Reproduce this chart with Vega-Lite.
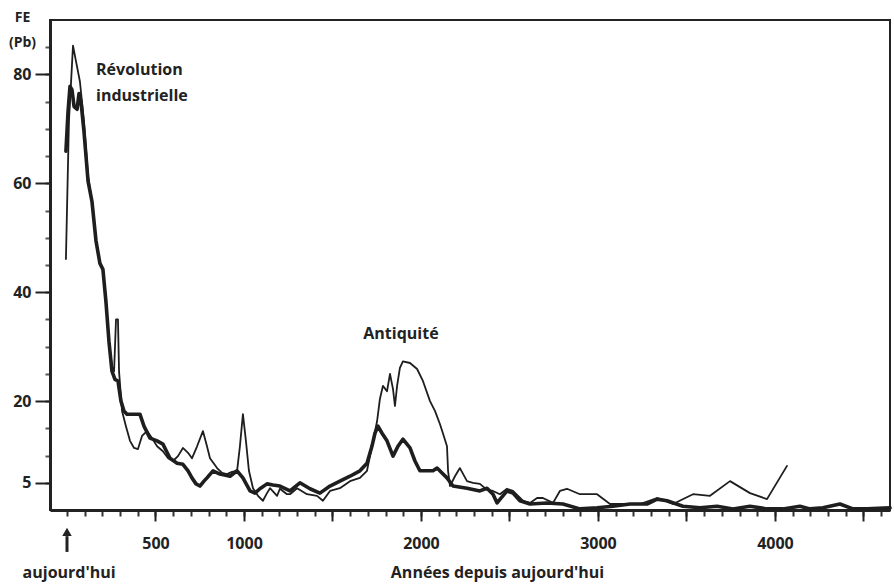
{
  "$schema": "https://vega.github.io/schema/vega-lite/v6.json",
  "width": 840,
  "height": 490,
  "autosize": "none",
  "padding": {"left": 50, "top": 20, "right": 4, "bottom": 74},
  "background": "white",
  "config": {
    "view": {"stroke": "#222222", "strokeWidth": 2},
    "font": "Open Sans"
  },
  "resolve": {"axis": {"x": "independent", "y": "independent"}},
  "datasets": {
    "series": [
      {"serie":"fine","year":-6,"fe":46.1},{"serie":"fine","year":11,"fe":71.4},{"serie":"fine","year":34,"fe":85.3},{"serie":"fine","year":51,"fe":82.4},{"serie":"fine","year":73,"fe":78.7},{"serie":"fine","year":96,"fe":71.4},{"serie":"fine","year":119,"fe":61.3},{"serie":"fine","year":141,"fe":56.7},{"serie":"fine","year":164,"fe":49.4},{"serie":"fine","year":186,"fe":45.3},{"serie":"fine","year":203,"fe":44.2},{"serie":"fine","year":220,"fe":38.3},{"serie":"fine","year":237,"fe":31.0},{"serie":"fine","year":254,"fe":26.4},{"serie":"fine","year":266,"fe":25.5},{"serie":"fine","year":277,"fe":35.0},{"serie":"fine","year":288,"fe":35.0},{"serie":"fine","year":294,"fe":25.5},{"serie":"fine","year":311,"fe":18.2},{"serie":"fine","year":333,"fe":15.4},{"serie":"fine","year":356,"fe":12.7},{"serie":"fine","year":379,"fe":11.4},{"serie":"fine","year":401,"fe":11.2},{"serie":"fine","year":424,"fe":13.6},{"serie":"fine","year":452,"fe":14.5},{"serie":"fine","year":480,"fe":13.2},{"serie":"fine","year":509,"fe":11.7},{"serie":"fine","year":542,"fe":10.8},{"serie":"fine","year":571,"fe":9.5},{"serie":"fine","year":599,"fe":9.0},{"serie":"fine","year":627,"fe":9.9},{"serie":"fine","year":655,"fe":11.4},{"serie":"fine","year":684,"fe":10.5},{"serie":"fine","year":706,"fe":9.5},{"serie":"fine","year":735,"fe":11.7},{"serie":"fine","year":768,"fe":14.5},{"serie":"fine","year":791,"fe":11.7},{"serie":"fine","year":808,"fe":9.5},{"serie":"fine","year":848,"fe":7.7},{"serie":"fine","year":876,"fe":6.8},{"serie":"fine","year":904,"fe":6.6},{"serie":"fine","year":932,"fe":7.0},{"serie":"fine","year":961,"fe":7.2},{"serie":"fine","year":977,"fe":11.7},{"serie":"fine","year":994,"fe":17.6},{"serie":"fine","year":1011,"fe":12.7},{"serie":"fine","year":1028,"fe":7.2},{"serie":"fine","year":1051,"fe":4.0},{"serie":"fine","year":1079,"fe":2.6},{"serie":"fine","year":1107,"fe":1.7},{"serie":"fine","year":1130,"fe":3.1},{"serie":"fine","year":1147,"fe":4.0},{"serie":"fine","year":1187,"fe":2.6},{"serie":"fine","year":1203,"fe":3.9},{"serie":"fine","year":1243,"fe":2.9},{"serie":"fine","year":1260,"fe":2.9},{"serie":"fine","year":1300,"fe":4.0},{"serie":"fine","year":1356,"fe":2.9},{"serie":"fine","year":1413,"fe":2.6},{"serie":"fine","year":1446,"fe":1.7},{"serie":"fine","year":1486,"fe":3.5},{"serie":"fine","year":1542,"fe":4.0},{"serie":"fine","year":1599,"fe":5.3},{"serie":"fine","year":1655,"fe":5.9},{"serie":"fine","year":1695,"fe":7.2},{"serie":"fine","year":1729,"fe":12.7},{"serie":"fine","year":1752,"fe":16.3},{"serie":"fine","year":1768,"fe":20.4},{"serie":"fine","year":1785,"fe":22.8},{"serie":"fine","year":1808,"fe":21.8},{"serie":"fine","year":1825,"fe":25.0},{"serie":"fine","year":1842,"fe":22.2},{"serie":"fine","year":1853,"fe":19.1},{"serie":"fine","year":1865,"fe":22.8},{"serie":"fine","year":1881,"fe":26.1},{"serie":"fine","year":1898,"fe":27.3},{"serie":"fine","year":1938,"fe":27.0},{"serie":"fine","year":1978,"fe":25.9},{"serie":"fine","year":2011,"fe":23.7},{"serie":"fine","year":2051,"fe":20.0},{"serie":"fine","year":2079,"fe":18.2},{"serie":"fine","year":2107,"fe":15.8},{"serie":"fine","year":2124,"fe":14.1},{"serie":"fine","year":2147,"fe":11.7},{"serie":"fine","year":2153,"fe":7.2},{"serie":"fine","year":2164,"fe":4.4},{"serie":"fine","year":2192,"fe":6.2},{"serie":"fine","year":2220,"fe":7.7},{"serie":"fine","year":2260,"fe":5.3},{"serie":"fine","year":2294,"fe":5.0},{"serie":"fine","year":2333,"fe":4.8},{"serie":"fine","year":2373,"fe":3.7},{"serie":"fine","year":2407,"fe":3.5},{"serie":"fine","year":2446,"fe":2.9},{"serie":"fine","year":2486,"fe":3.9},{"serie":"fine","year":2520,"fe":3.5},{"serie":"fine","year":2576,"fe":1.7},{"serie":"fine","year":2616,"fe":1.3},{"serie":"fine","year":2656,"fe":2.2},{"serie":"fine","year":2689,"fe":2.2},{"serie":"fine","year":2746,"fe":1.3},{"serie":"fine","year":2785,"fe":3.5},{"serie":"fine","year":2825,"fe":3.9},{"serie":"fine","year":2898,"fe":2.9},{"serie":"fine","year":2995,"fe":2.9},{"serie":"fine","year":3068,"fe":1.1},{"serie":"fine","year":3153,"fe":1.1},{"serie":"fine","year":3237,"fe":1.1},{"serie":"fine","year":3334,"fe":2.2},{"serie":"fine","year":3424,"fe":1.1},{"serie":"fine","year":3537,"fe":2.9},{"serie":"fine","year":3633,"fe":2.6},{"serie":"fine","year":3746,"fe":5.3},{"serie":"fine","year":3859,"fe":3.1},{"serie":"fine","year":3955,"fe":2.0},{"serie":"fine","year":4068,"fe":8.1},
      {"serie":"épaisse","year":-6,"fe":65.9},{"serie":"épaisse","year":6,"fe":73.2},{"serie":"épaisse","year":17,"fe":77.8},{"serie":"épaisse","year":28,"fe":77.2},{"serie":"épaisse","year":40,"fe":74.1},{"serie":"épaisse","year":57,"fe":73.6},{"serie":"épaisse","year":68,"fe":76.5},{"serie":"épaisse","year":79,"fe":75.0},{"serie":"épaisse","year":96,"fe":69.5},{"serie":"épaisse","year":119,"fe":60.4},{"serie":"épaisse","year":141,"fe":56.7},{"serie":"épaisse","year":164,"fe":49.4},{"serie":"épaisse","year":186,"fe":45.3},{"serie":"épaisse","year":203,"fe":44.2},{"serie":"épaisse","year":220,"fe":38.3},{"serie":"épaisse","year":237,"fe":31.0},{"serie":"épaisse","year":254,"fe":25.5},{"serie":"épaisse","year":271,"fe":24.0},{"serie":"épaisse","year":288,"fe":23.7},{"serie":"épaisse","year":305,"fe":20.0},{"serie":"épaisse","year":322,"fe":18.2},{"serie":"épaisse","year":339,"fe":17.6},{"serie":"épaisse","year":373,"fe":17.6},{"serie":"épaisse","year":412,"fe":17.6},{"serie":"épaisse","year":435,"fe":15.4},{"serie":"épaisse","year":469,"fe":13.2},{"serie":"épaisse","year":509,"fe":12.7},{"serie":"épaisse","year":542,"fe":12.1},{"serie":"épaisse","year":582,"fe":9.5},{"serie":"épaisse","year":622,"fe":8.6},{"serie":"épaisse","year":655,"fe":8.4},{"serie":"épaisse","year":684,"fe":7.2},{"serie":"épaisse","year":706,"fe":5.9},{"serie":"épaisse","year":729,"fe":4.8},{"serie":"épaisse","year":751,"fe":4.4},{"serie":"épaisse","year":774,"fe":5.3},{"serie":"épaisse","year":791,"fe":5.9},{"serie":"épaisse","year":825,"fe":7.2},{"serie":"épaisse","year":864,"fe":6.6},{"serie":"épaisse","year":921,"fe":6.2},{"serie":"épaisse","year":961,"fe":7.2},{"serie":"épaisse","year":994,"fe":5.9},{"serie":"épaisse","year":1034,"fe":3.5},{"serie":"épaisse","year":1062,"fe":3.1},{"serie":"épaisse","year":1090,"fe":3.9},{"serie":"épaisse","year":1130,"fe":4.8},{"serie":"épaisse","year":1164,"fe":4.6},{"serie":"épaisse","year":1203,"fe":4.4},{"serie":"épaisse","year":1260,"fe":3.5},{"serie":"épaisse","year":1316,"fe":5.0},{"serie":"épaisse","year":1373,"fe":3.9},{"serie":"épaisse","year":1429,"fe":3.1},{"serie":"épaisse","year":1486,"fe":4.4},{"serie":"épaisse","year":1542,"fe":5.3},{"serie":"épaisse","year":1599,"fe":6.2},{"serie":"épaisse","year":1655,"fe":7.2},{"serie":"épaisse","year":1695,"fe":8.6},{"serie":"épaisse","year":1723,"fe":11.7},{"serie":"épaisse","year":1740,"fe":14.1},{"serie":"épaisse","year":1757,"fe":15.4},{"serie":"épaisse","year":1780,"fe":14.1},{"serie":"épaisse","year":1808,"fe":12.7},{"serie":"épaisse","year":1842,"fe":9.9},{"serie":"épaisse","year":1870,"fe":11.7},{"serie":"épaisse","year":1898,"fe":13.0},{"serie":"épaisse","year":1938,"fe":11.4},{"serie":"épaisse","year":1966,"fe":9.0},{"serie":"épaisse","year":1994,"fe":7.2},{"serie":"épaisse","year":2034,"fe":7.2},{"serie":"épaisse","year":2068,"fe":7.2},{"serie":"épaisse","year":2091,"fe":7.7},{"serie":"épaisse","year":2119,"fe":6.8},{"serie":"épaisse","year":2147,"fe":5.9},{"serie":"épaisse","year":2181,"fe":4.4},{"serie":"épaisse","year":2260,"fe":4.0},{"serie":"épaisse","year":2333,"fe":3.5},{"serie":"épaisse","year":2373,"fe":4.0},{"serie":"épaisse","year":2407,"fe":2.9},{"serie":"épaisse","year":2430,"fe":1.3},{"serie":"épaisse","year":2486,"fe":3.5},{"serie":"épaisse","year":2520,"fe":3.1},{"serie":"épaisse","year":2559,"fe":1.7},{"serie":"épaisse","year":2616,"fe":1.1},{"serie":"épaisse","year":2712,"fe":1.3},{"serie":"épaisse","year":2802,"fe":1.1},{"serie":"épaisse","year":2898,"fe":0.2},{"serie":"épaisse","year":2995,"fe":0.4},{"serie":"épaisse","year":3085,"fe":0.7},{"serie":"épaisse","year":3181,"fe":1.1},{"serie":"épaisse","year":3277,"fe":1.1},{"serie":"épaisse","year":3334,"fe":2.0},{"serie":"épaisse","year":3390,"fe":1.7},{"serie":"épaisse","year":3480,"fe":0.7},{"serie":"épaisse","year":3576,"fe":0.4},{"serie":"épaisse","year":3673,"fe":0.7},{"serie":"épaisse","year":3763,"fe":0.2},{"serie":"épaisse","year":3859,"fe":0.7},{"serie":"épaisse","year":3955,"fe":0.2},{"serie":"épaisse","year":4045,"fe":0.2},{"serie":"épaisse","year":4141,"fe":0.7},{"serie":"épaisse","year":4198,"fe":0.2},{"serie":"épaisse","year":4271,"fe":0.4},{"serie":"épaisse","year":4367,"fe":1.1},{"serie":"épaisse","year":4441,"fe":0.2},{"serie":"épaisse","year":4520,"fe":0.2},{"serie":"épaisse","year":4650,"fe":0.4}
    ]
  },
  "layer": [
    {
      "data": {"name": "series"},
      "mark": {"type": "line", "color": "#1e1e1e", "strokeJoin": "round", "strokeCap": "round"},
      "encoding": {
        "x": {
          "field": "year", "type": "quantitative",
          "scale": {"domain": [-96, 4650], "nice": false, "zero": false},
          "axis": {
            "orient": "bottom",
            "values": [0,100,200,300,400,500,600,700,800,900,1000,1100,1200,1300,1400,1500,1600,1700,1800,1900,2000,2100,2200,2300,2400,2500,2600,2700,2800,2900,3000,3100,3200,3300,3400,3500,3600,3700,3800,3900,4000,4100,4200,4300,4400,4500,4600],
            "labels": false, "grid": false, "title": null,
            "tickSize": 6, "tickWidth": 2, "tickColor": "#333333",
            "domainColor": "#222222", "domainWidth": 3
          }
        },
        "y": {
          "field": "fe", "type": "quantitative",
          "scale": {"domain": [0, 90], "nice": false, "zero": false},
          "axis": {
            "orient": "left",
            "values": [5,10,15,20,25,30,35,40,45,50,55,60,65,70,75,80,85],
            "labels": false, "grid": false, "title": null,
            "tickSize": 5, "tickWidth": 2, "tickColor": "#555555",
            "domainColor": "#222222", "domainWidth": 3
          }
        },
        "detail": {"field": "serie", "type": "nominal"},
        "strokeWidth": {"field": "serie", "type": "nominal", "scale": {"domain": ["fine", "épaisse"], "range": [1.8, 3.6]}, "legend": null}
      }
    },
    {
      "data": {"values": [
        {"year": 164, "fe": 80.9, "label": "Révolution"},
        {"year": 164, "fe": 76.1, "label": "industrielle"}
      ]},
      "mark": {"type": "text", "align": "left", "baseline": "middle", "font": "Open Sans", "fontWeight": "bold", "fontSize": 16, "color": "#222222"},
      "encoding": {
        "x": {
          "field": "year", "type": "quantitative",
          "axis": {
            "orient": "bottom",
            "values": [500,1000,1500,2000,2500,3000,3500,4000,4500],
            "format": "d",
            "labelExpr": "(datum.value == 500 || datum.value % 1000 == 0) ? datum.label : ''",
            "tickSize": 11, "tickWidth": 2, "tickColor": "#222222",
            "domain": false, "grid": false,
            "labelFont": "Open Sans", "labelFontWeight": "bold", "labelFontSize": 16, "labelColor": "#222222",
            "labelPadding": 14, "labelFlush": false, "labelOverlap": false,
            "title": "Années depuis aujourd'hui",
            "titleFont": "Open Sans", "titleFontWeight": "bold", "titleFontSize": 16, "titleColor": "#222222",
            "titleX": 447, "titleY": 62, "titleAlign": "center", "titleBaseline": "middle"
          }
        },
        "y": {
          "field": "fe", "type": "quantitative",
          "axis": {
            "orient": "left",
            "values": [5,20,40,60,80],
            "tickSize": 15, "tickWidth": 2, "tickColor": "#222222",
            "domain": false, "grid": false,
            "labelFont": "Open Sans", "labelFontWeight": "bold", "labelFontSize": 16, "labelColor": "#222222",
            "labelPadding": 4, "labelFlush": false, "labelOverlap": false,
            "title": ["FE", "(Pb)"],
            "titleFont": "Open Sans", "titleFontWeight": "bold", "titleFontSize": 14, "titleColor": "#222222",
            "titleAngle": 0, "titleX": -28, "titleY": -3,
            "titleAlign": "center", "titleBaseline": "middle", "titleLineHeight": 25
          }
        },
        "text": {"field": "label"}
      }
    },
    {
      "data": {"values": [
        {"year": 1887, "fe": 32.3, "label": "Antiquité"},
        {"year": 12, "fe": -11.6, "label": "aujourd'hui"}
      ]},
      "mark": {"type": "text", "align": "center", "baseline": "middle", "font": "Open Sans", "fontWeight": "bold", "fontSize": 16, "color": "#222222"},
      "encoding": {
        "x": {"field": "year", "type": "quantitative", "axis": null},
        "y": {"field": "fe", "type": "quantitative", "axis": null},
        "text": {"field": "label"}
      }
    },
    {
      "data": {"values": [{"year": 0, "fe": -4.8, "fe2": -7.7}]},
      "mark": {"type": "rule", "color": "#222222", "strokeWidth": 3},
      "encoding": {
        "x": {"field": "year", "type": "quantitative", "axis": null},
        "y": {"field": "fe", "type": "quantitative", "axis": null},
        "y2": {"field": "fe2"}
      }
    },
    {
      "data": {"values": [{"year": 0, "fe": -4.0}]},
      "mark": {"type": "point", "shape": "triangle-up", "filled": true, "size": 90, "color": "#222222", "opacity": 1},
      "encoding": {
        "x": {"field": "year", "type": "quantitative", "axis": null},
        "y": {"field": "fe", "type": "quantitative", "axis": null}
      }
    }
  ]
}
